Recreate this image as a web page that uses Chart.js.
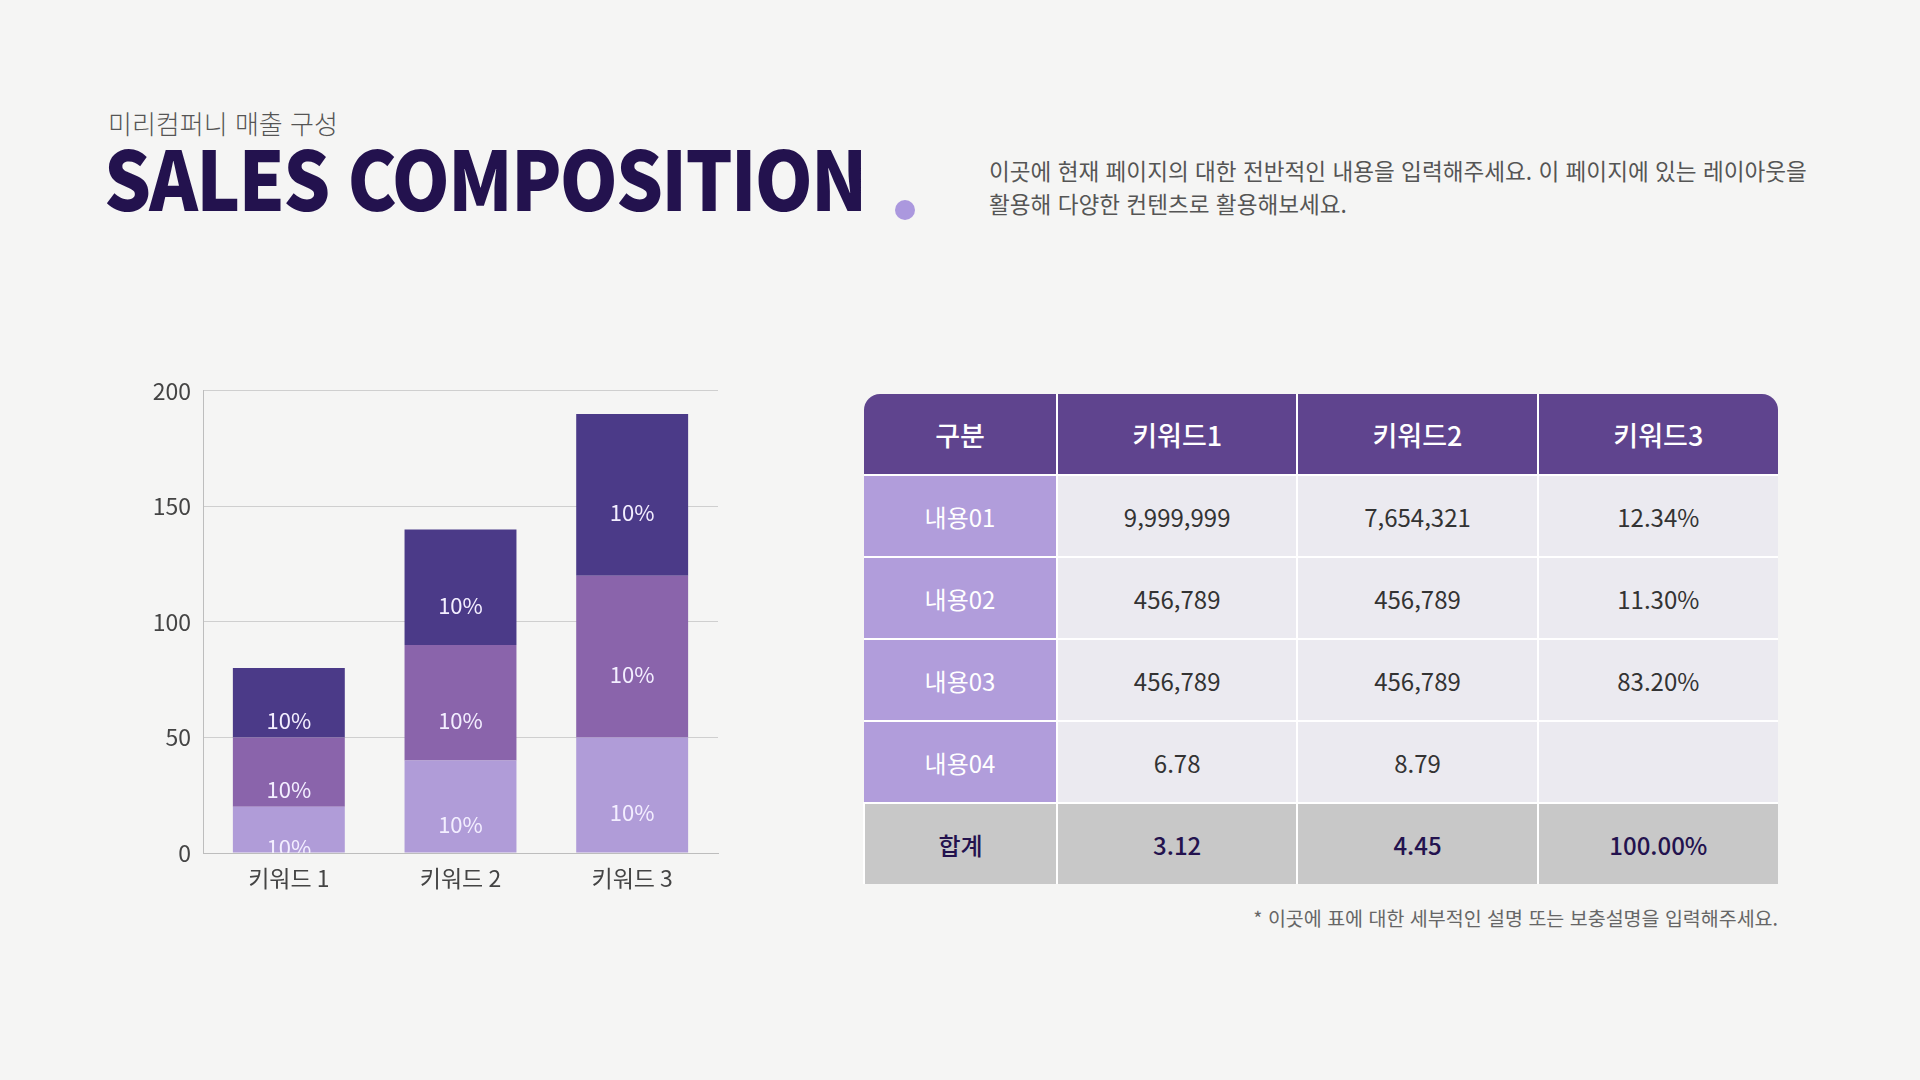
<!DOCTYPE html>
<html lang="ko">
<head>
<meta charset="utf-8">
<script src="https://cdn.jsdelivr.net/npm/chart.js@4"></script>
<style>
  html, body { margin: 0; padding: 0; }
  body {
    width: 1920px; height: 1080px; overflow: hidden; position: relative;
    background: #f5f5f4;
    font-family: "Noto Sans CJK KR", "Noto Sans", sans-serif;
  }
  .sub { position: absolute; left: 108px; top: 110px; font-size: 26px; line-height: 26px; color: #555; font-weight: 300; }
  .title { position: absolute; left: 104px; top: 139px; font-size: 82px; font-weight: 900; color: #23124e; letter-spacing: -2px; line-height: 0.9; transform: scaleX(0.9); transform-origin: left top; white-space: nowrap; }
  .dot { position: absolute; left: 895px; top: 200px; width: 20px; height: 20px; border-radius: 50%; background: #ab98de; }
  .desc { position: absolute; left: 989px; top: 154px; font-size: 22.6px; line-height: 33px; color: #555; font-weight: 400; white-space: nowrap; }
  #chartBox { position: absolute; left: 120px; top: 365px; width: 610px; height: 535px; }
  table { position: absolute; left: 863px; top: 394px; width: 915px; border-collapse: collapse; table-layout: fixed; }
  td, th { height: 80px; padding: 0; text-align: center; border: 2px solid #fff; font-size: 24px; color: #333; font-weight: 400; }
  th { background: #5f448e; color: #fff; font-size: 27px; font-weight: 500; border-top: none; }
  th:first-child { border-left: none; border-top-left-radius: 16px; }
  th:last-child { border-right: none; border-top-right-radius: 16px; }
  td { background: #ebeaf0; }
  td.head { background: #b19ddb; color: #fff; border-left: none; }
  td:last-child { border-right: none; }
  tr.total td { background: #c8c8c8; color: #23124e; font-weight: 500; border-bottom: none; }
  .note { position: absolute; right: 142px; top: 903px; font-size: 19.5px; color: #666; }
</style>
</head>
<body>
<div class="sub">미리컴퍼니 매출 구성</div>
<div class="title">SALES COMPOSITION</div>
<div class="dot"></div>
<div class="desc">이곳에 현재 페이지의 대한 전반적인 내용을 입력해주세요. 이 페이지에 있는 레이아웃을<br>활용해 다양한 컨텐츠로 활용해보세요.</div>
<div id="chartBox"><canvas id="chart1"></canvas></div>
<table id="tbl"></table>
<div class="note">* 이곳에 표에 대한 세부적인 설명 또는 보충설명을 입력해주세요.</div>
<script>
const categories = ['키워드 1', '키워드 2', '키워드 3'];
const seriesBottom = [20, 40, 50];
const seriesMiddle = [30, 50, 70];
const seriesTop = [30, 50, 70];
const segmentLabel = '10%';
const yTicks = [0, 50, 100, 150, 200];

const tableHeader = ['구분', '키워드1', '키워드2', '키워드3'];
const rowNames = ['내용01', '내용02', '내용03', '내용04', '합계'];
const colKeyword1 = ['9,999,999', '456,789', '456,789', '6.78', '3.12'];
const colKeyword2 = ['7,654,321', '456,789', '456,789', '8.79', '4.45'];
const colKeyword3 = ['12.34%', '11.30%', '83.20%', '', '100.00%'];

// table
const tbl = document.getElementById('tbl');
let html = '<colgroup><col style="width:193px"><col><col><col></colgroup><tr>';
tableHeader.forEach(h => { html += '<th>' + h + '</th>'; });
html += '</tr>';
rowNames.forEach((name, i) => {
    const cls = i === rowNames.length - 1 ? ' class="total"' : '';
    const headCls = i === rowNames.length - 1 ? '' : ' class="head"';
    html += '<tr' + cls + '><td' + headCls + '>' + name + '</td><td>' + colKeyword1[i] +
        '</td><td>' + colKeyword2[i] + '</td><td>' + colKeyword3[i] + '</td></tr>';
});
tbl.innerHTML = html;

// labels inside the stacked segments, a bit below centre like the original
const segmentLabels = {
    id: 'segmentLabels',
    afterDatasetsDraw(chart) {
        const ctx = chart.ctx;
        const area = chart.chartArea;
        ctx.save();
        ctx.beginPath();
        ctx.rect(area.left, area.top, area.right - area.left, area.bottom - area.top);
        ctx.clip();
        ctx.font = '400 22px "Noto Sans CJK KR"';
        ctx.fillStyle = '#f3eeff';
        ctx.textAlign = 'center';
        ctx.textBaseline = 'middle';
        chart.data.datasets.forEach((ds, i) => {
            chart.getDatasetMeta(i).data.forEach(bar => {
                const p = bar.getProps(['x', 'y', 'base'], true);
                ctx.fillText(segmentLabel, p.x, (p.y + p.base) / 2 + 18);
            });
        });
        ctx.restore();
    }
};

const ctx1 = document.getElementById('chart1').getContext('2d');
new Chart(ctx1, {
    type: 'bar',
    data: {
        labels: categories,
        datasets: [
            { label: 'bottom', data: seriesBottom, backgroundColor: '#b09cd8' },
            { label: 'middle', data: seriesMiddle, backgroundColor: '#8a64ab' },
            { label: 'top', data: seriesTop, backgroundColor: '#4b3a88' }
        ]
    },
    options: {
        responsive: true,
        maintainAspectRatio: false,
        animation: false,
        categoryPercentage: 0.8,
        barPercentage: 0.815,
        layout: { padding: { top: 16, right: 12 } },
        plugins: { legend: { display: false }, tooltip: { enabled: false } },
        scales: {
            x: {
                stacked: true,
                grid: { display: false },
                border: { display: true, color: '#bdbdbd', width: 1 },
                ticks: { color: '#444', font: { family: 'Noto Sans CJK KR', size: 23 }, padding: 3 },
                afterFit(scale) { scale.height = 47; }
            },
            y: {
                stacked: true,
                min: 0,
                max: 200,
                afterBuildTicks(scale) { scale.ticks = yTicks.map(v => ({ value: v })); },
                grid: { color: '#cfcfcf', lineWidth: 1, drawTicks: false },
                border: { display: true, color: '#bdbdbd', width: 1 },
                ticks: { color: '#444', font: { family: 'Noto Sans CJK KR', size: 23 }, padding: 12 },
                afterFit(scale) { scale.width = 83; }
            }
        }
    },
    plugins: [segmentLabels]
});
</script>
</body>
</html>
